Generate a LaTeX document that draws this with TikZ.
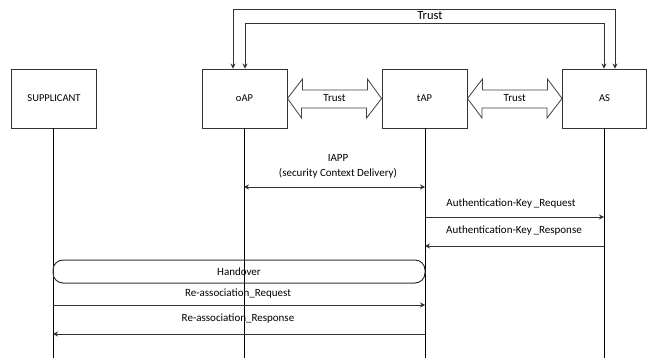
\documentclass[tikz,border=0pt]{standalone}
\usepackage{fontspec}
\setmainfont{Carlito}
\usetikzlibrary{arrows.meta,calc}
\begin{document}
\begin{tikzpicture}[x=1pt,y=-1pt,
  ent/.style={draw=black!80,line width=0.9pt,minimum width=85pt,minimum height=59pt,inner sep=0pt,font=\fontsize{10.5}{12}\selectfont},
  life/.style={draw=black,line width=0.7pt},
  msg/.style={draw=black!80,line width=1pt,-{Stealth[length=5pt,width=5pt]}},
  lbl/.style={font=\fontsize{11}{12}\selectfont,inner sep=0pt},
  blk/.style={draw=black!75,line width=0.8pt,fill=white},
  loop/.style={draw=black!80,line width=1pt,{Stealth[length=5pt,width=5pt]}-{Stealth[length=5pt,width=5pt]}}]
\useasboundingbox (0,0) rectangle (647,358);
% entities
\node[ent] (sup) at (54,98.5) {SUPPLICANT};
\node[ent] (oap) at (244.5,98.5) {oAP};
\node[ent] (tap) at (424.5,98.5) {tAP};
\node[ent,minimum width=84pt] (as) at (604.5,98.5) {AS};
% lifeline ends
\coordinate (supE) at (53,358);
\coordinate (oapE) at (244,358);
\coordinate (tapE) at (425,358);
\coordinate (asE) at (604,358);
\draw[life] (sup.south -| supE) -- (supE);
\draw[life] (oap.south -| oapE) -- (oapE);
\draw[life] (tap.south -| tapE) -- (tapE);
\draw[life] (as.south -| asE) -- (asE);
% trust loops
\draw[loop] (as.north -| 615,0) |- (233,10) -- (oap.north -| 233,0);
\draw[loop] (as.north -| 604,0) |- (245,24) -- (oap.north -| 245,0);
\node[lbl,font=\fontsize{12.5}{13}\selectfont] (tr0) at (430,16) {Trust};
% block arrows
\draw[blk] (oap.east) -- ++(15,-19.5) -- ++(0,11) -- ++(65,0) -- ++(0,-11) -- (tap.west) -- ++(-15,19.5) -- ++(0,-10) -- ++(-65,0) -- ++(0,10) -- cycle;
\node[lbl] (tr1) at ($(oap.east)!0.5!(tap.west)$) {Trust};
\draw[blk] (tap.east) -- ++(15,-19.5) -- ++(0,11) -- ++(65,0) -- ++(0,-11) -- (as.west) -- ++(-15,19.5) -- ++(0,-10) -- ++(-65,0) -- ++(0,10) -- cycle;
\node[lbl] (tr2) at ($(tap.east)!0.5!(as.west)$) {Trust};
% IAPP
\coordinate (i1) at (244,187);
\coordinate (i2) at (425,187);
\draw[msg,{Stealth[length=5pt,width=5pt]}-{Stealth[length=5pt,width=5pt]}] (i1) -- (i2);
\node[lbl,align=center] (iapp) at (338,166) {IAPP\\[3pt](security Context Delivery)};
% auth key
\coordinate (a1) at (425,217);
\coordinate (a2) at (604,217);
\draw[msg] (a1) -- (a2);
\node[lbl] (al) at (511,204) {Authentication-Key\,\_Request};
\coordinate (b1) at (604,246);
\coordinate (b2) at (425,246);
\draw[msg] (b1) -- (b2);
\node[lbl] (bl) at (514,231) {Authentication-Key\,\_Response};
% handover
\node[draw=black!80,line width=1pt,rounded corners=10pt,minimum width=372pt,minimum height=23pt,inner sep=0pt,font=\fontsize{11}{12}\selectfont] (ho) at (239,271.5) {Handover};
% reassociation
\coordinate (r1) at (53,305);
\coordinate (r2) at (425,305);
\draw[msg] (r1) -- (r2);
\node[lbl] (rl) at (238,294) {Re-association\_Request};
\coordinate (s1) at (425,334);
\coordinate (s2) at (53,334);
\draw[msg] (s1) -- (s2);
\node[lbl] (sl) at (238,319) {Re-association\_Response};
\end{tikzpicture}
\end{document}
